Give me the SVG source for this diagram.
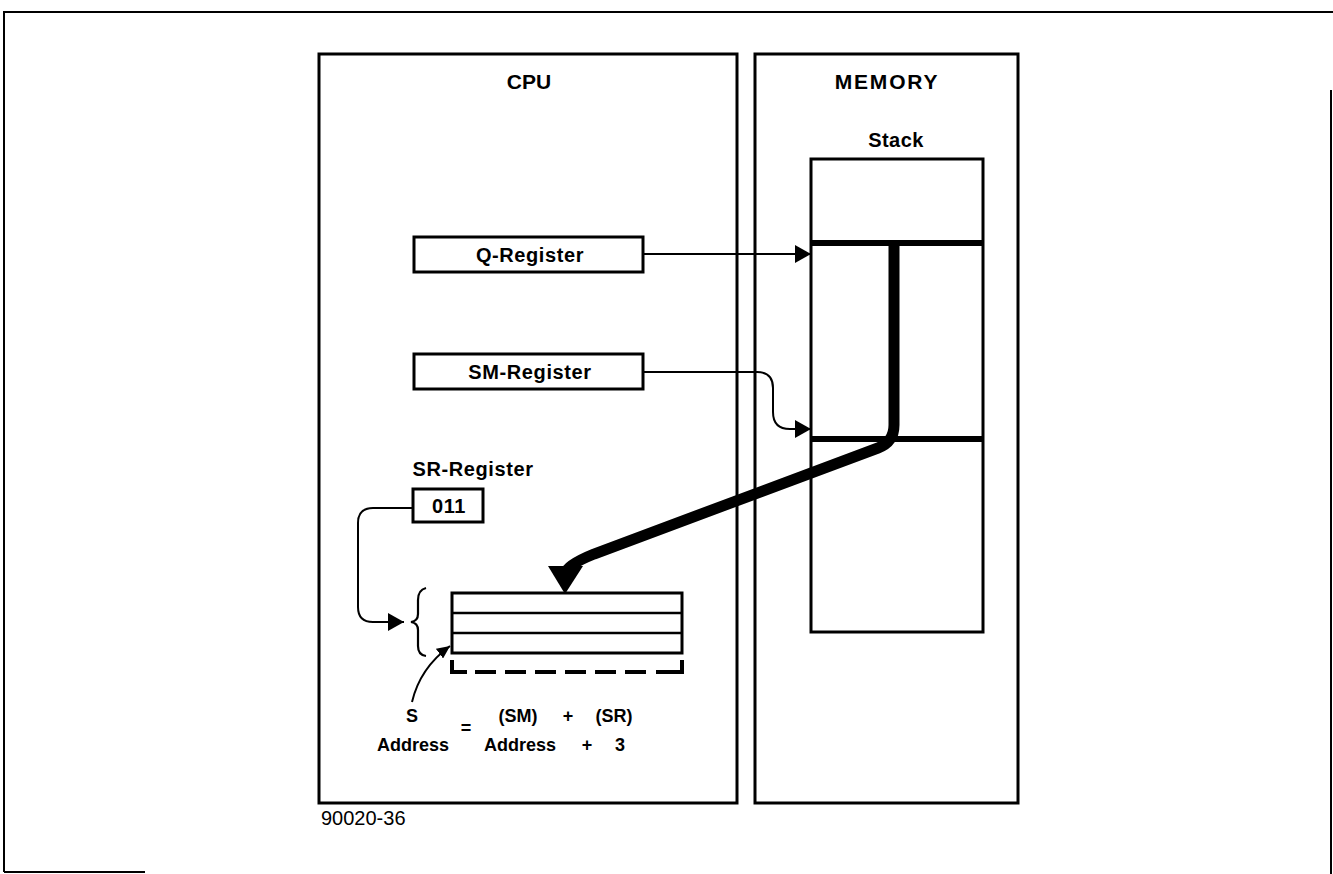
<svg xmlns="http://www.w3.org/2000/svg" width="1333" height="874" viewBox="0 0 1333 874">
  <style>
    .box { fill: #fff; stroke: #000; stroke-width: 3; }
    .thin { fill: none; stroke: #000; stroke-width: 2.2; }
    .lbl { font-family: "Liberation Sans", Arial, sans-serif; font-weight: bold; fill: #000; text-anchor: middle; }
    .reg { font-size: 20px; letter-spacing: 0.6px; }
    .f { font-size: 18px; }
  </style>
  <defs>
    <marker id="tri" viewBox="0 0 16 18" refX="16" refY="9" markerWidth="16" markerHeight="18" markerUnits="userSpaceOnUse" orient="auto">
      <path d="M0 0 L16 9 L0 18 Z" fill="#000"/>
    </marker>
    <marker id="tri-s" viewBox="0 0 13 12" refX="13" refY="6" markerWidth="13" markerHeight="12" markerUnits="userSpaceOnUse" orient="auto">
      <path d="M0 0 L13 6 L0 12 Z" fill="#000"/>
    </marker>
  </defs>
  <rect width="1333" height="874" fill="#fff"/>

  <!-- page frame -->
  <g id="frame" fill="none" stroke="#000" stroke-width="2">
    <path d="M4 872 V12 H1333"/>
    <path d="M4 872 H145"/>
    <path d="M1331 90 V874"/>
  </g>

  <!-- CPU section -->
  <g id="cpu">
    <rect class="box" x="319" y="54" width="418" height="749"/>
    <text class="lbl" x="529" y="89" font-size="21">CPU</text>
  </g>

  <!-- Memory section -->
  <g id="memory">
    <rect class="box" x="755" y="54" width="263" height="749"/>
    <text class="lbl" x="887" y="89" font-size="21" letter-spacing="1.8">MEMORY</text>
  </g>

  <!-- stack -->
  <g id="stack">
    <text class="lbl" x="896" y="147" font-size="20" letter-spacing="0.4">Stack</text>
    <rect class="box" x="811" y="159" width="172" height="473"/>
    <line x1="811" y1="243" x2="983" y2="243" stroke="#000" stroke-width="6"/>
    <line x1="811" y1="439" x2="983" y2="439" stroke="#000" stroke-width="6"/>
  </g>

  <g id="q-register">
    <rect class="box" x="414" y="237" width="229" height="35"/>
    <text class="lbl reg" x="530" y="262">Q-Register</text>
  </g>

  <g id="sm-register">
    <rect class="box" x="414" y="354" width="229" height="35"/>
    <text class="lbl reg" x="530" y="379">SM-Register</text>
  </g>

  <g id="sr-register">
    <text class="lbl reg" x="473" y="476">SR-Register</text>
    <rect class="box" x="413" y="489" width="70" height="33"/>
    <text class="lbl reg" x="449" y="513">011</text>
  </g>

  <g id="s-registers">
    <rect class="box" x="452" y="593" width="230" height="60" stroke-width="2.5"/>
    <line x1="452" y1="613" x2="682" y2="613" stroke="#000" stroke-width="2.5"/>
    <line x1="452" y1="633" x2="682" y2="633" stroke="#000" stroke-width="2.5"/>
    <!-- dashed extension below -->
    <path d="M452 660 V672 H467 M682 660 V672 H656" fill="none" stroke="#000" stroke-width="4"/>
    <line x1="475" y1="672" x2="650" y2="672" stroke="#000" stroke-width="4" stroke-dasharray="21 9"/>
    <!-- brace -->
    <path class="thin" d="M426 588 Q418 590 418 600 L418 614 Q418 621 411 622 Q418 623 418 630 L418 646 Q418 655 426 656"/>
  </g>

  <g id="formula">
    <text class="lbl f" x="412" y="722">S</text>
    <text class="lbl f" x="413" y="751">Address</text>
    <text class="lbl f" x="466" y="734">=</text>
    <text class="lbl f" x="518" y="722">(SM)</text>
    <text class="lbl f" x="568" y="722">+</text>
    <text class="lbl f" x="614" y="722">(SR)</text>
    <text class="lbl f" x="520" y="751">Address</text>
    <text class="lbl f" x="587" y="751">+</text>
    <text class="lbl f" x="620" y="751">3</text>
  </g>

  <g id="figure-number">
    <text x="321" y="825" font-family="Liberation Sans, Arial, sans-serif" font-size="20" fill="#000">90020-36</text>
  </g>

  <!-- connectors -->
  <g id="connectors" fill="none" stroke="#000">
    <path d="M643 254 H811" stroke-width="2" marker-end="url(#tri)"/>
    <path d="M643 372 H757 Q773 372 773 388 V412 Q773 429 790 429 H811" stroke-width="2" marker-end="url(#tri)"/>
    <path d="M413 508 H373 Q358 508 358 523 V607 Q358 622 373 622 H404" stroke-width="2" marker-end="url(#tri)"/>
    <path d="M412 702 Q420 668 450 646" stroke-width="2" marker-end="url(#tri-s)"/>
    <!-- heavy transfer path from stack to S registers -->
    <path d="M894 243 V425 Q894 442 878 448 L594 554 Q567 565 566 572" stroke-width="11"/>
    <path d="M548 566 L583 566 L565 594 Z" fill="#000" stroke="none"/>
  </g>
</svg>
